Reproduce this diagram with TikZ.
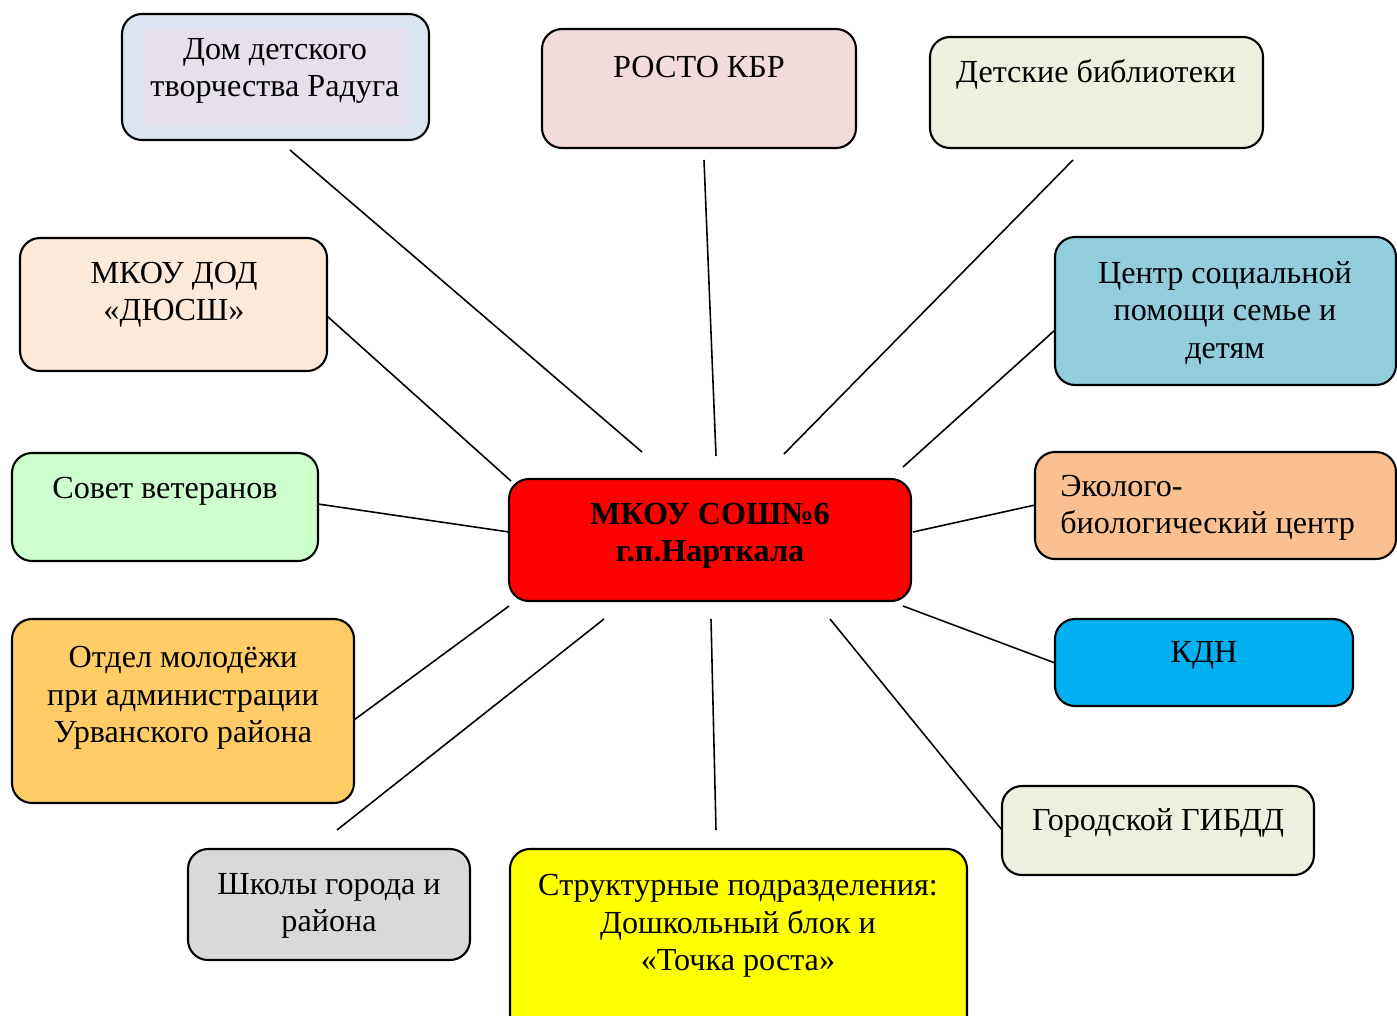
\documentclass[tikz,border=0pt]{standalone}
\usepackage{fontspec}
\setmainfont{Liberation Serif}
\usetikzlibrary{fit}

\definecolor{domblue}{HTML}{DBE5F1}
\definecolor{domlilac}{HTML}{E5E0EC}
\definecolor{rostopink}{HTML}{F2DCDB}
\definecolor{palegreen}{HTML}{EBF1DE}
\definecolor{centrteal}{HTML}{92CDDC}
\definecolor{ekopeach}{HTML}{FAC090}
\definecolor{kdnblue}{HTML}{00B0F0}
\definecolor{shkgray}{HTML}{D9D9D9}
\definecolor{otdelgold}{HTML}{FFCC66}
\definecolor{sovetgreen}{HTML}{CCFFCC}
\definecolor{dyusshrose}{HTML}{FDE9D9}
\definecolor{struktyellow}{HTML}{FFFF00}
\definecolor{schoolred}{HTML}{FF0000}

\tikzset{
    orgbox/.style={draw=black, line width=1.2pt, rounded corners=0.4cm, inner sep=0pt},
    orgtext/.style={font=\fontsize{18.3}{21.3}\selectfont, align=center, inner sep=0pt},
    link/.style={draw=black, line width=0.9pt}
}

\begin{document}
\begin{tikzpicture}[x=0.02cm, y=-0.02cm]
    \useasboundingbox (0,0) rectangle (1397,1015);

    % boxes round the school
    \node[orgbox, fill=domblue, fit={(122,14) (429,140)}] (dom) {};
    \fill[domlilac] (143,28) rectangle (409,125);
    \node[orgbox, fill=rostopink, fit={(542,29) (856,148)}] (rosto) {};
    \node[orgbox, fill=palegreen, fit={(930,37) (1263,148)}] (biblio) {};
    \node[orgbox, fill=centrteal, fit={(1055,237) (1396,385)}] (centr) {};
    \node[orgbox, fill=ekopeach, fit={(1035,452) (1396,559)}] (eko) {};
    \node[orgbox, fill=kdnblue, fit={(1055,619) (1353,706)}] (kdn) {};
    \node[orgbox, fill=palegreen, fit={(1002,786) (1314,875)}] (gibdd) {};
    \node[orgbox, fill=struktyellow, fit={(510,849) (967,1040)}] (strukt) {};
    \node[orgbox, fill=shkgray, fit={(188,849) (470,960)}] (shkoly) {};
    \node[orgbox, fill=otdelgold, fit={(12,619) (354,803)}] (otdel) {};
    \node[orgbox, fill=sovetgreen, fit={(12,453) (318,561)}] (sovet) {};
    \node[orgbox, fill=dyusshrose, fit={(20,238) (327,371)}] (dyussh) {};
    \node[orgbox, fill=schoolred, fit={(509,479) (911,601)}] (school) {};

    % texts
    \node[orgtext] (domT) at (275,71) {Дом детского\\творчества Радуга};
    \node[orgtext] (rostoT) at (699,67) {РОСТО КБР};
    \node[orgtext] (biblioT) at (1096,74) {Детские библиотеки};
    \node[orgtext] (centrT) at (1225,313) {Центр социальной\\помощи семье и\\детям};
    \node[orgtext, align=left, anchor=west] (ekoT) at (1060,508) {Эколого-\\биологический центр};
    \node[orgtext] (kdnT) at (1204,655) {КДН};
    \node[orgtext] (gibddT) at (1158,823) {Городской ГИБДД};
    \node[orgtext] (struktT) at (738,926) {Структурные подразделения:\\Дошкольный блок и\\«Точка роста»};
    \node[orgtext] (shkolyT) at (329,906) {Школы города и\\района};
    \node[orgtext] (otdelT) at (183,698) {Отдел молодёжи\\при администрации\\Урванского района};
    \node[orgtext] (sovetT) at (165,491) {Совет ветеранов};
    \node[orgtext] (dyusshT) at (174,295) {МКОУ ДОД\\«ДЮСШ»};
    \node[orgtext, font=\fontsize{18.3}{21.3}\selectfont\bfseries] (schoolT) at (710,536) {МКОУ СОШ№6\\г.п.Нарткала};

    % connectors
    \foreach \n/\xa/\ya/\xb/\yb in {1/290/150/642/452, 2/704/160/716/456, 3/1073/160/784/454,
        4/1055/330/903/467, 5/1035/505/913/532, 6/1055/663/903/606, 7/1002/830/830/619,
        8/711/619/716/830, 9/604/619/337/830, 10/509/606/354/720, 11/318/504/509/532,
        12/327/316/511/481}{
        \coordinate (ls\n) at (\xa,\ya);
        \coordinate (le\n) at (\xb,\yb);
        \draw[link] (ls\n) -- (le\n);
    }
\end{tikzpicture}
\end{document}
